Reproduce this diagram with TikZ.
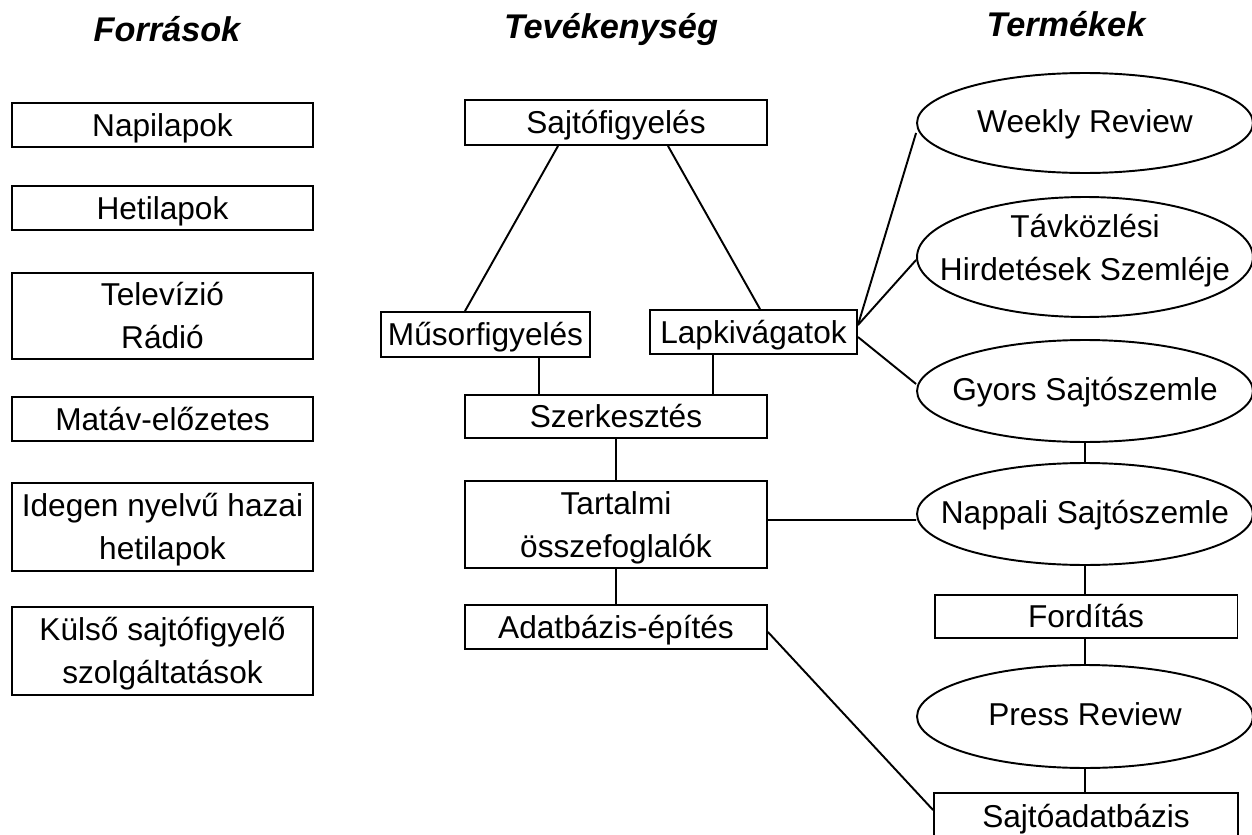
\documentclass[tikz,border=0pt]{standalone}
\usepackage{fontspec}
\setmainfont{Liberation Sans}
\usetikzlibrary{shapes.geometric}
\begin{document}
\begin{tikzpicture}[x=0.02cm,y=-0.02cm,
  box/.style={draw,line width=1.1pt,inner sep=0pt},
  onel/.style={font=\fontsize{18}{24.4}\selectfont,text height=12.9pt,text depth=0pt},
  mtxt/.style={font=\fontsize{18}{24.4}\selectfont,align=center,inner sep=0pt,anchor=base},
  prod/.style={draw,ellipse,line width=1.1pt,inner sep=0pt,minimum width=6.72cm},
  ttl/.style={font=\fontsize{19.5}{24}\selectfont\bfseries\itshape,anchor=base,inner sep=0pt},
  conn/.style={line width=1.1pt}]
\useasboundingbox (0,0) rectangle (1252,835);
\clip (0,0) rectangle (1252,835);

% titles
\node[ttl] (t1) at (167,41) {Források};
\node[ttl] (t2) at (611,38) {Tevékenység};
\node[ttl] (t3) at (1066,36) {Termékek};

% sources
\node[box,onel,minimum width=6.02cm,minimum height=0.88cm] (napi) at (162.5,125) {Napilapok};
\node[box,onel,minimum width=6.02cm,minimum height=0.88cm] (heti) at (162.5,208) {Hetilapok};
\node[box,minimum width=6.02cm,minimum height=1.72cm] (tv) at (162.5,316) {};
\node[mtxt] (tvt) at (162.5,348) {Televízió\\Rádió};
\node[box,onel,minimum width=6.02cm,minimum height=0.88cm] (matav) at (162.5,419) {Matáv-előzetes};
\node[box,minimum width=6.02cm,minimum height=1.76cm] (ideg) at (162.5,527) {};
\node[mtxt] (idegt) at (162.5,559) {Idegen nyelvű hazai\\hetilapok};
\node[box,minimum width=6.02cm,minimum height=1.76cm] (kuls) at (162.5,651) {};
\node[mtxt] (kulst) at (162.5,683) {Külső sajtófigyelő\\szolgáltatások};

% activities
\node[box,onel,minimum width=6.04cm,minimum height=0.9cm] (sajt) at (616,122.5) {Sajtófigyelés};
\node[box,onel,minimum width=4.18cm,minimum height=0.9cm] (musor) at (485.5,334.5) {Műsorfigyelés};
\node[box,onel,minimum width=4.14cm,minimum height=0.88cm] (lap) at (753.5,332) {Lapkivágatok};
\node[box,onel,minimum width=6.04cm,minimum height=0.86cm] (szer) at (616,416.5) {Szerkesztés};
\node[box,minimum width=6.04cm,minimum height=1.74cm] (tart) at (616,524.5) {};
\node[mtxt] (tartt) at (616,557) {Tartalmi\\összefoglalók};
\node[box,onel,minimum width=6.04cm,minimum height=0.88cm] (adat) at (616,627) {Adatbázis-építés};

% products
\node[prod,minimum height=2cm] (week) at (1085,123) {};
\node[onel,inner sep=0pt] (weekt) at (1085,121) {Weekly Review};
\node[prod,minimum height=2.4cm] (tav) at (1085,257) {};
\node[mtxt] (tavt) at (1085,280) {Távközlési\\Hirdetések Szemléje};
\node[prod,minimum height=2.04cm] (gyors) at (1085,391) {};
\node[onel,inner sep=0pt] (gyorst) at (1085,389) {Gyors Sajtószemle};
\node[prod,minimum height=2.04cm] (napp) at (1085,514) {};
\node[onel,inner sep=0pt] (nappt) at (1085,512) {Nappali Sajtószemle};
\node[box,onel,minimum width=6.06cm,minimum height=0.86cm] (ford) at (1086,616.5) {Fordítás};
\node[prod,minimum height=2.06cm] (press) at (1085,716.5) {};
\node[onel,inner sep=0pt] (presst) at (1085,714) {Press Review};
\node[box,onel,minimum width=6.08cm,minimum height=0.92cm] (saja) at (1086,816) {Sajtóadatbázis};

% connectors
\draw[conn] ([xshift=-1.16cm]sajt.south) -- ([xshift=-0.41cm]musor.north);
\draw[conn] ([xshift=1.04cm]sajt.south) -- ([xshift=0.13cm]lap.north);
\draw[conn] ([xshift=1.07cm]musor.south) -- ([xshift=1.07cm]musor.south |- szer.north);
\draw[conn] ([xshift=-0.81cm]lap.south) -- ([xshift=-0.81cm]lap.south |- szer.north);
\draw[conn] (szer.south) -- (tart.north);
\draw[conn] (tart.south) -- (adat.north);
\draw[conn] ([yshift=0.14cm]lap.east) -- ([yshift=-0.2cm]week.west);
\draw[conn] ([yshift=0.14cm]lap.east) -- ([yshift=-0.06cm]tav.west);
\draw[conn] ([yshift=-0.1cm]lap.east) -- ([yshift=0.14cm]gyors.west);
\draw[conn] ([yshift=0.09cm]tart.east) -- ([yshift=-0.12cm]napp.west);
\draw[conn] ([yshift=-0.1cm]adat.east) -- ([yshift=0.12cm]saja.west);
\draw[conn] (gyors.south) -- (napp.north);
\draw[conn] (napp.south) -- (ford.north -| napp.south);
\draw[conn] (ford.south -| press.north) -- (press.north);
\draw[conn] (press.south) -- (saja.north -| press.south);
\end{tikzpicture}
\end{document}
